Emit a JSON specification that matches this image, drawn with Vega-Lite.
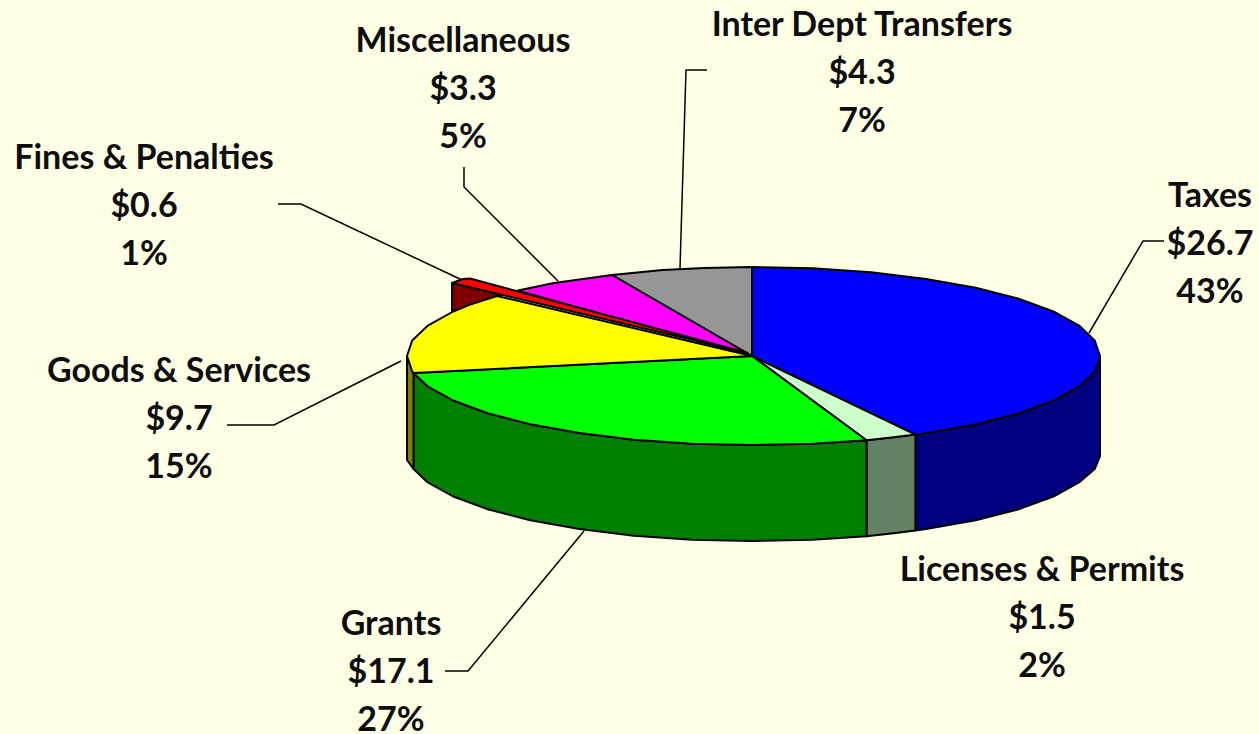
{
"$schema":"https://vega.github.io/schema/vega-lite/v6.json",
"width":1259,"height":734,"autosize":{"type":"none"},"padding":0,
"background":"#FFFFE5","view":{"stroke":null},
"datasets":{
"labels":[
{"slice":"Taxes","lines":["Taxes","$26.7","43%"],"x":1210,"y":197},
{"slice":"Licenses & Permits","lines":["Licenses & Permits","$1.5","2%"],"x":1042,"y":571},
{"slice":"Grants","lines":["Grants","$17.1","27%"],"x":391,"y":625},
{"slice":"Goods & Services","lines":["Goods & Services","$9.7","15%"],"x":179,"y":372},
{"slice":"Fines & Penalties","lines":["Fines & Penalties","$0.6","1%"],"x":144,"y":159},
{"slice":"Miscellaneous","lines":["Miscellaneous","$3.3","5%"],"x":463,"y":42},
{"slice":"Inter Dept Transfers","lines":["Inter Dept Transfers","$4.3","7%"],"x":862,"y":26}
],
"leaders":[
{"slice":"Taxes","seq":1,"x":1089,"y":333},{"slice":"Taxes","seq":2,"x":1143,"y":241},{"slice":"Taxes","seq":3,"x":1164,"y":241},
{"slice":"Inter","seq":1,"x":680,"y":268},{"slice":"Inter","seq":2,"x":686,"y":70},{"slice":"Inter","seq":3,"x":707,"y":70},
{"slice":"Misc","seq":1,"x":558,"y":281},{"slice":"Misc","seq":2,"x":464,"y":187},{"slice":"Misc","seq":3,"x":464,"y":167},
{"slice":"Fines","seq":1,"x":462,"y":280},{"slice":"Fines","seq":2,"x":301,"y":204},{"slice":"Fines","seq":3,"x":278,"y":204},
{"slice":"Goods","seq":1,"x":401,"y":361},{"slice":"Goods","seq":2,"x":274,"y":425},{"slice":"Goods","seq":3,"x":227,"y":425},
{"slice":"Grants","seq":1,"x":584,"y":531},{"slice":"Grants","seq":2,"x":468,"y":671},{"slice":"Grants","seq":3,"x":445,"y":671}
],
"faces":[
{"part":"Taxes wall","seq":1,"x":1100,"y":356},{"part":"Taxes wall","seq":2,"x":1094.7,"y":371.5},{"part":"Taxes wall","seq":3,"x":1079,"y":386.4},{"part":"Taxes wall","seq":4,"x":1053.4,"y":400.5},{"part":"Taxes wall","seq":5,"x":1018.6,"y":413.2},{"part":"Taxes wall","seq":6,"x":975.7,"y":424.2},{"part":"Taxes wall","seq":7,"x":926,"y":433.1},{"part":"Taxes wall","seq":8,"x":915.4,"y":434.6},{"part":"Taxes wall","seq":9,"x":915.4,"y":530.6},{"part":"Taxes wall","seq":10,"x":926,"y":529.1},{"part":"Taxes wall","seq":11,"x":975.7,"y":520.2},{"part":"Taxes wall","seq":12,"x":1018.6,"y":509.2},{"part":"Taxes wall","seq":13,"x":1053.4,"y":496.5},{"part":"Taxes wall","seq":14,"x":1079,"y":482.4},{"part":"Taxes wall","seq":15,"x":1094.7,"y":469},{"part":"Taxes wall","seq":16,"x":1100,"y":456},{"part":"Taxes wall","seq":17,"x":1100,"y":356},
{"part":"Licenses wall","seq":1,"x":866.5,"y":440.2},{"part":"Licenses wall","seq":2,"x":893.6,"y":437.3},{"part":"Licenses wall","seq":3,"x":915.4,"y":434.6},{"part":"Licenses wall","seq":4,"x":915.4,"y":530.6},{"part":"Licenses wall","seq":5,"x":893.6,"y":533.3},{"part":"Licenses wall","seq":6,"x":866.5,"y":536.2},{"part":"Licenses wall","seq":7,"x":866.5,"y":440.2},
{"part":"Grants wall","seq":1,"x":866.5,"y":440.2},{"part":"Grants wall","seq":2,"x":812.4,"y":443.7},{"part":"Grants wall","seq":3,"x":752,"y":445},{"part":"Grants wall","seq":4,"x":692,"y":443.7},{"part":"Grants wall","seq":5,"x":634,"y":439.7},{"part":"Grants wall","seq":6,"x":579.5,"y":433.1},{"part":"Grants wall","seq":7,"x":530.2,"y":424.2},{"part":"Grants wall","seq":8,"x":487.7,"y":413.2},{"part":"Grants wall","seq":9,"x":453.2,"y":400.5},{"part":"Grants wall","seq":10,"x":427.8,"y":386.4},{"part":"Grants wall","seq":11,"x":413.5,"y":373},{"part":"Grants wall","seq":12,"x":413.5,"y":469},{"part":"Grants wall","seq":13,"x":427.8,"y":482.4},{"part":"Grants wall","seq":14,"x":453.2,"y":496.5},{"part":"Grants wall","seq":15,"x":487.7,"y":509.2},{"part":"Grants wall","seq":16,"x":530.2,"y":520.2},{"part":"Grants wall","seq":17,"x":579.5,"y":529.1},{"part":"Grants wall","seq":18,"x":634,"y":535.7},{"part":"Grants wall","seq":19,"x":692,"y":539.7},{"part":"Grants wall","seq":20,"x":752,"y":541},{"part":"Grants wall","seq":21,"x":812.4,"y":539.7},{"part":"Grants wall","seq":22,"x":866.5,"y":536.2},{"part":"Grants wall","seq":23,"x":866.5,"y":440.2},
{"part":"Goods wall","seq":1,"x":407,"y":356},{"part":"Goods wall","seq":2,"x":407,"y":460},{"part":"Goods wall","seq":3,"x":413.5,"y":469},{"part":"Goods wall","seq":4,"x":413.5,"y":373},{"part":"Goods wall","seq":5,"x":407,"y":356},
{"part":"Fines wall","seq":1,"x":452,"y":283},{"part":"Fines wall","seq":2,"x":452,"y":312},{"part":"Fines wall","seq":3,"x":497,"y":296},{"part":"Fines wall","seq":4,"x":502,"y":295},{"part":"Fines wall","seq":5,"x":452,"y":283},
{"part":"Taxes top","seq":1,"x":752,"y":356},{"part":"Taxes top","seq":2,"x":752,"y":267},{"part":"Taxes top","seq":3,"x":812.4,"y":268.3},{"part":"Taxes top","seq":4,"x":871,"y":272.3},{"part":"Taxes top","seq":5,"x":926,"y":278.9},{"part":"Taxes top","seq":6,"x":975.7,"y":287.8},{"part":"Taxes top","seq":7,"x":1018.6,"y":298.8},{"part":"Taxes top","seq":8,"x":1053.4,"y":311.5},{"part":"Taxes top","seq":9,"x":1079,"y":325.6},{"part":"Taxes top","seq":10,"x":1094.7,"y":340.5},{"part":"Taxes top","seq":11,"x":1100,"y":356},{"part":"Taxes top","seq":12,"x":1094.7,"y":371.5},{"part":"Taxes top","seq":13,"x":1079,"y":386.4},{"part":"Taxes top","seq":14,"x":1053.4,"y":400.5},{"part":"Taxes top","seq":15,"x":1018.6,"y":413.2},{"part":"Taxes top","seq":16,"x":975.7,"y":424.2},{"part":"Taxes top","seq":17,"x":926,"y":433.1},{"part":"Taxes top","seq":18,"x":915.4,"y":434.6},{"part":"Taxes top","seq":19,"x":752,"y":356},
{"part":"Licenses top","seq":1,"x":752,"y":356},{"part":"Licenses top","seq":2,"x":915.4,"y":434.6},{"part":"Licenses top","seq":3,"x":893.6,"y":437.3},{"part":"Licenses top","seq":4,"x":866.5,"y":440.2},{"part":"Licenses top","seq":5,"x":752,"y":356},
{"part":"Grants top","seq":1,"x":752,"y":356},{"part":"Grants top","seq":2,"x":866.5,"y":440.2},{"part":"Grants top","seq":3,"x":812.4,"y":443.7},{"part":"Grants top","seq":4,"x":752,"y":445},{"part":"Grants top","seq":5,"x":692,"y":443.7},{"part":"Grants top","seq":6,"x":634,"y":439.7},{"part":"Grants top","seq":7,"x":579.5,"y":433.1},{"part":"Grants top","seq":8,"x":530.2,"y":424.2},{"part":"Grants top","seq":9,"x":487.7,"y":413.2},{"part":"Grants top","seq":10,"x":453.2,"y":400.5},{"part":"Grants top","seq":11,"x":427.8,"y":386.4},{"part":"Grants top","seq":12,"x":413.5,"y":373},{"part":"Grants top","seq":13,"x":752,"y":356},
{"part":"Inter top","seq":1,"x":752,"y":356},{"part":"Inter top","seq":2,"x":612,"y":275},{"part":"Inter top","seq":3,"x":662.6,"y":270},{"part":"Inter top","seq":4,"x":704,"y":267.9},{"part":"Inter top","seq":5,"x":752,"y":267},{"part":"Inter top","seq":6,"x":752,"y":356},
{"part":"Misc top","seq":1,"x":752,"y":356},{"part":"Misc top","seq":2,"x":518,"y":290.6},{"part":"Misc top","seq":3,"x":554,"y":283.1},{"part":"Misc top","seq":4,"x":612,"y":275},{"part":"Misc top","seq":5,"x":752,"y":356},
{"part":"Fines top","seq":1,"x":748,"y":353},{"part":"Fines top","seq":2,"x":452,"y":283},{"part":"Fines top","seq":3,"x":463,"y":279},{"part":"Fines top","seq":4,"x":470,"y":278.5},{"part":"Fines top","seq":5,"x":748,"y":353},
{"part":"Goods top","seq":1,"x":752,"y":356},{"part":"Goods top","seq":2,"x":413.5,"y":373},{"part":"Goods top","seq":3,"x":412.2,"y":371.5},{"part":"Goods top","seq":4,"x":407,"y":356},{"part":"Goods top","seq":5,"x":412.2,"y":340.5},{"part":"Goods top","seq":6,"x":427.8,"y":325.6},{"part":"Goods top","seq":7,"x":453.2,"y":311.5},{"part":"Goods top","seq":8,"x":469.4,"y":304.9},{"part":"Goods top","seq":9,"x":497,"y":296},{"part":"Goods top","seq":10,"x":752,"y":356}
]
},
"layer":[
{"data":{"name":"leaders"},"mark":{"type":"line","stroke":"black","strokeWidth":1.5,"interpolate":"linear"},
 "encoding":{"x":{"field":"x","type":"quantitative","scale":{"domain":[0,1259]},"axis":null},"y":{"field":"y","type":"quantitative","scale":{"domain":[734,0]},"axis":null},"detail":{"field":"slice"},"order":{"field":"seq"}}},
{"data":{"name":"faces"},"mark":{"type":"line","filled":true,"stroke":"black","strokeWidth":2,"strokeJoin":"round"},
 "encoding":{"x":{"field":"x","type":"quantitative","scale":{"domain":[0,1259]},"axis":null},"y":{"field":"y","type":"quantitative","scale":{"domain":[734,0]},"axis":null},"order":{"field":"seq"},
 "fill":{"field":"part","type":"nominal","legend":null,"scale":{"domain":["Taxes wall","Licenses wall","Grants wall","Goods wall","Fines wall","Taxes top","Licenses top","Grants top","Inter top","Misc top","Fines top","Goods top"],"range":["#000080","#668066","#008000","#808000","#800000","#0000FF","#CCFFCC","#00FF00","#969696","#FF00FF","#FF0000","#FFFF00"]}},"stroke":{"value":"black"}}},
{"data":{"name":"labels"},"mark":{"type":"text","font":"Lato","fontWeight":"bold","fontSize":34,"lineHeight":48,"align":"center","baseline":"middle","color":"#0D0D0D"},
 "encoding":{"x":{"field":"x","type":"quantitative","scale":{"domain":[0,1259]},"axis":null},"y":{"field":"y","type":"quantitative","scale":{"domain":[734,0]},"axis":null},"text":{"field":"lines"}}}
]
}
